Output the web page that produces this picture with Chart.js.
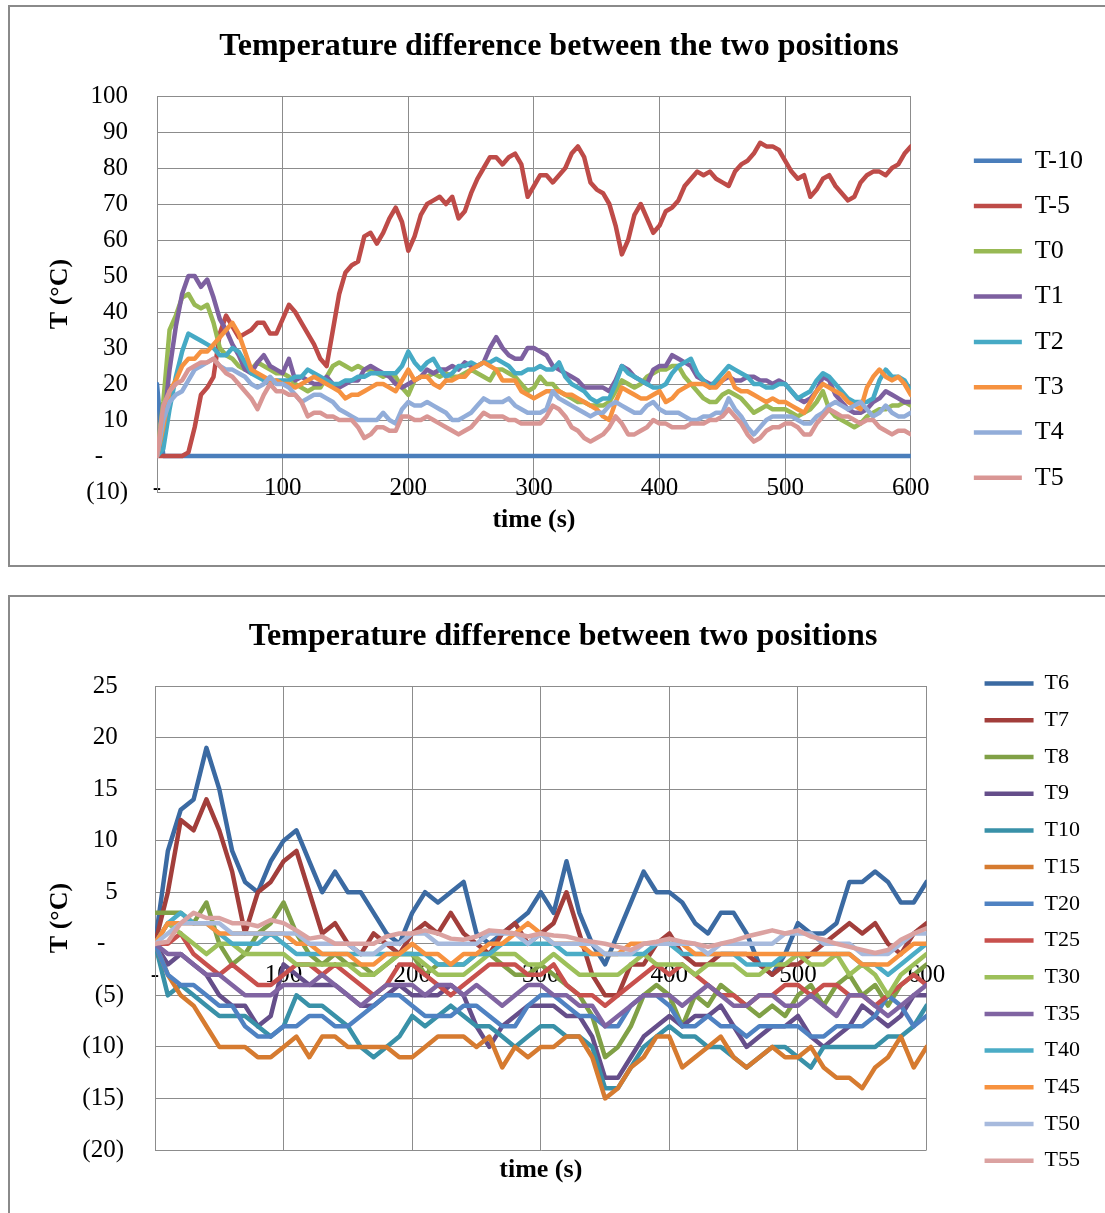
<!DOCTYPE html>
<html><head><meta charset="utf-8">
<script src="https://cdn.jsdelivr.net/npm/chart.js@4.4.1/dist/chart.umd.min.js"></script>
<style>
html,body{margin:0;padding:0;background:#fff;overflow:hidden;width:1105px;height:1213px;}
.box{position:absolute;left:8px;border:2px solid #8a8a8a;background:#fff;}
#box1{top:5px;width:1100px;height:558px;}
#box2{top:595px;width:1100px;height:640px;}
.wrap{position:absolute;left:0;top:0;}
#w1{width:1083px;height:558px;}
#w2{width:1080px;height:616px;}
</style></head><body>
<div class="box" id="box1"><div class="wrap" id="w1"><canvas id="c1"></canvas></div></div>
<div class="box" id="box2"><div class="wrap" id="w2"><canvas id="c2"></canvas></div></div>
<script>
// ---------- Chart 1 data (t = 0..600 s, every 5 s) ----------
const time1 = [0,5,10,15,20,25,30,35,40,45,
50,55,60,65,70,75,80,85,90,95,
100,105,110,115,120,125,130,135,140,145,
150,155,160,165,170,175,180,185,190,195,
200,205,210,215,220,225,230,235,240,245,
250,255,260,265,270,275,280,285,290,295,
300,305,310,315,320,325,330,335,340,345,
350,355,360,365,370,375,380,385,390,395,
400,405,410,415,420,425,430,435,440,445,
450,455,460,465,470,475,480,485,490,495,
500,505,510,515,520,525,530,535,540,545,
550,555,560,565,570,575,580,585,590,595,
600];
const labels1 = ['T-10','T-5','T0','T1','T2','T3','T4','T5'];
const Tm10 = [20,0,0,0,0,0,0,0,0,0,
0,0,0,0,0,0,0,0,0,0,
0,0,0,0,0,0,0,0,0,0,
0,0,0,0,0,0,0,0,0,0,
0,0,0,0,0,0,0,0,0,0,
0,0,0,0,0,0,0,0,0,0,
0,0,0,0,0,0,0,0,0,0,
0,0,0,0,0,0,0,0,0,0,
0,0,0,0,0,0,0,0,0,0,
0,0,0,0,0,0,0,0,0,0,
0,0,0,0,0,0,0,0,0,0,
0,0,0,0,0,0,0,0,0,0,
0];
const Tm5 = [0,0,0,0,0,1,8,17,19,22,
34,39,36,33,34,35,37,37,34,34,
38,42,40,37,34,31,27,25,35,45,
51,53,54,61,62,59,62,66,69,65,
57,61,67,70,71,72,70,72,66,68,
73,77,80,83,83,81,83,84,81,72,
75,78,78,76,78,80,84,86,83,76,
74,73,70,64,56,60,67,70,66,62,
64,68,69,71,75,77,79,78,79,77,
76,75,79,81,82,84,87,86,86,85,
82,79,77,78,72,74,77,78,75,73,
71,72,76,78,79,79,78,80,81,84,
86];
const T0 = [0,15,35,39,44,45,42,41,42,37,
30,28,27,25,24,24,26,25,24,23,
23,22,20,19,18,19,19,22,25,26,
25,24,25,24,24,23,22,23,22,19,
17,21,22,22,23,22,23,22,22,23,
24,23,22,21,24,24,23,22,20,18,
19,22,20,20,18,17,16,15,15,14,
14,14,15,18,21,20,19,20,22,23,
24,24,25,25,22,20,18,16,15,15,
17,18,17,16,14,12,13,14,13,13,
13,12,11,12,13,15,18,13,11,10,
9,8,9,11,12,13,13,14,14,15,
14];
const T1 = [0,8,24,36,45,50,50,47,49,44,
38,35,31,28,24,23,26,28,25,24,
23,27,21,22,21,20,20,22,20,19,
20,21,21,24,25,24,23,22,20,19,
20,21,22,24,23,24,24,25,24,26,
25,25,26,30,33,30,28,27,27,30,
30,29,28,25,24,23,22,21,19,19,
19,19,18,21,25,24,22,21,20,24,
25,25,28,27,26,25,22,21,20,20,
21,22,21,21,22,22,21,21,20,21,
20,18,16,15,16,18,22,21,17,15,
13,12,12,13,15,16,18,17,16,15,
15];
const T2 = [0,2,13,22,29,34,33,32,31,30,
28,28,30,29,26,23,22,21,20,21,
21,21,22,22,24,23,22,21,20,20,
21,21,22,22,23,23,23,23,23,25,
29,26,24,26,27,24,22,23,25,25,
26,25,26,26,27,26,25,23,23,24,
24,25,24,24,26,22,20,19,18,16,
15,16,16,20,25,23,22,21,20,19,
19,20,23,25,26,27,23,21,19,21,
23,25,24,23,22,20,20,19,19,20,
20,18,16,17,18,21,23,22,20,18,
16,15,15,15,16,21,24,22,22,21,
18];
const T3 = [0,8,18,21,25,27,27,29,29,31,
33,35,37,34,29,24,23,22,21,21,
20,20,19,20,21,22,21,20,19,18,
16,17,17,18,19,20,20,19,18,21,
24,21,22,22,20,19,21,21,22,22,
24,25,26,25,24,21,21,21,18,17,
16,17,18,18,18,17,17,16,15,14,
13,11,10,15,19,18,17,16,16,17,
18,15,16,18,19,20,20,20,19,19,
21,23,19,18,18,17,16,15,16,15,
15,14,13,12,15,18,20,19,18,17,
15,14,13,19,22,24,22,21,22,20,
17];
const T4 = [0,10,15,17,18,21,24,25,26,27,
25,24,24,23,22,20,19,20,22,20,
20,19,17,15,16,17,17,16,15,13,
12,11,10,10,10,10,12,10,9,13,
15,14,14,15,14,13,12,10,10,11,
12,14,16,15,15,15,16,14,13,12,
12,12,13,18,16,15,14,13,12,11,
12,12,14,15,14,13,12,12,14,15,
13,12,12,12,11,10,10,11,11,12,
12,16,13,11,8,6,8,10,11,11,
11,11,10,9,9,11,12,14,15,14,
13,14,15,13,11,12,14,12,11,11,
12];
const T5 = [0,14,18,20,21,24,25,26,26,27,
25,23,22,20,18,16,13,17,20,18,
18,17,17,15,11,12,12,11,11,10,
10,10,8,5,6,8,8,7,7,11,
11,10,10,11,10,9,8,7,6,7,
8,10,12,11,11,11,10,10,9,9,
9,9,11,14,13,11,8,7,5,4,
5,6,8,11,9,6,6,7,8,10,
9,9,8,8,8,9,9,9,10,10,
11,13,11,9,6,4,5,7,8,8,
9,9,8,6,6,9,11,13,12,11,
11,10,9,10,10,8,7,6,7,7,
6];
const colors1 = ['#4A7EBB','#BE4B48','#98B954','#7D60A0','#46AAC5','#F69240','#92ADD9','#D99694'];
const yTicks1 = {min:-10, max:100, step:10};

// ---------- Chart 2 data (t = 0..600 s, every 10 s) ----------
const time2 = [0,10,20,30,40,50,60,70,80,90,
100,110,120,130,140,150,160,170,180,190,
200,210,220,230,240,250,260,270,280,290,
300,310,320,330,340,350,360,370,380,390,
400,410,420,430,440,450,460,470,480,490,
500,510,520,530,540,550,560,570,580,590,
600];
const labels2 = ['T6','T7','T8','T9','T10','T15','T20','T25','T30','T35','T40','T45','T50','T55'];
const T6 = [0,9,13,14,19,15,9,6,5,8,
10,11,8,5,7,5,5,3,1,0,
3,5,4,5,6,1,0,1,2,3,
5,3,8,3,0,-2,1,4,7,5,
5,4,2,1,3,3,1,-2,-3,-1,
2,1,1,2,6,6,7,6,4,4,
6];
const T7 = [0,5,12,11,14,11,7,1,5,6,
8,9,5,1,2,0,-1,1,0,-1,
1,2,1,3,1,0,-1,1,2,0,
1,2,5,1,-3,-5,-5,-2,-2,0,
1,-1,-2,-2,-1,-1,-1,-2,-3,-2,
-2,-1,0,1,2,1,2,0,-1,1,
2];
const T8 = [3,3,3,2,4,0,-2,-1,1,2,
4,1,-1,-2,-1,-2,-2,-3,-2,-1,
-1,-3,-2,-2,-2,-1,-1,-2,-3,-3,
-2,-3,-4,-5,-7,-11,-10,-8,-5,-4,
-5,-8,-5,-6,-4,-5,-6,-7,-6,-7,
-5,-4,-6,-4,-3,-5,-4,-6,-4,-3,
-2];
const T9 = [0,-2,-1,-2,-3,-5,-6,-6,-8,-7,
-2,-3,-4,-4,-4,-5,-6,-6,-5,-4,
-5,-5,-5,-4,-5,-8,-10,-8,-7,-6,
-6,-6,-7,-7,-9,-13,-13,-11,-9,-8,
-7,-8,-7,-7,-6,-8,-10,-9,-8,-8,
-7,-9,-10,-9,-8,-6,-7,-8,-7,-5,
-5];
const T10 = [0,-5,-4,-5,-6,-7,-7,-7,-8,-9,
-8,-5,-6,-6,-7,-8,-10,-11,-10,-9,
-7,-8,-7,-6,-7,-8,-8,-9,-10,-9,
-8,-8,-9,-9,-10,-14,-14,-12,-10,-9,
-8,-9,-9,-10,-10,-11,-12,-11,-10,-10,
-11,-12,-10,-10,-10,-10,-10,-9,-9,-8,
-6];
const T15 = [0,-3,-5,-6,-8,-10,-10,-10,-11,-11,
-10,-9,-11,-9,-9,-10,-10,-10,-10,-11,
-11,-10,-9,-9,-9,-10,-9,-12,-10,-11,
-10,-10,-9,-9,-11,-15,-14,-12,-11,-9,
-9,-12,-11,-10,-9,-11,-12,-11,-10,-11,
-11,-10,-12,-13,-13,-14,-12,-11,-9,-12,
-10];
const T20 = [0,-3,-4,-4,-5,-6,-6,-8,-9,-9,
-8,-8,-7,-7,-8,-8,-7,-6,-5,-5,
-6,-7,-7,-7,-6,-6,-7,-8,-8,-6,
-5,-5,-6,-7,-7,-8,-8,-6,-5,-5,
-6,-8,-8,-7,-8,-8,-9,-8,-8,-8,
-8,-9,-9,-8,-8,-8,-7,-5,-6,-8,
-7];
const T25 = [0,0,1,-1,-2,-3,-2,-3,-4,-4,
-3,-2,-2,-3,-2,-3,-4,-5,-4,-2,
-2,-3,-4,-5,-4,-3,-2,-2,-2,-3,
-3,-2,-4,-5,-5,-6,-5,-4,-3,-2,
-3,-2,-3,-4,-5,-5,-6,-5,-5,-4,
-4,-5,-4,-4,-5,-5,-6,-5,-4,-3,
-4];
const T30 = [0,2,1,0,-1,0,0,-1,-1,-1,
-1,-2,-2,-2,-2,-2,-3,-3,-2,-1,
-1,-2,-3,-3,-3,-2,-1,-1,-1,-2,
-2,-1,-2,-3,-3,-3,-3,-2,-1,-2,
-2,-2,-3,-2,-2,-2,-3,-3,-2,-2,
-1,-2,-2,-1,-3,-2,-3,-5,-3,-2,
-1];
const T35 = [0,-1,-1,-2,-3,-3,-4,-5,-5,-5,
-4,-4,-4,-3,-4,-5,-6,-5,-4,-4,
-4,-5,-4,-4,-5,-4,-5,-6,-5,-4,
-4,-5,-5,-6,-6,-8,-7,-6,-5,-5,
-5,-6,-5,-4,-5,-6,-6,-5,-5,-6,
-6,-5,-6,-7,-5,-5,-6,-7,-6,-5,
-4];
const T40 = [0,2,3,2,2,1,0,0,0,1,
0,-1,-1,-1,-1,-1,-1,-1,-1,-1,
-1,-1,-2,-2,-2,-1,-1,0,0,0,
0,0,-1,-1,-1,-1,-1,-1,-1,0,
0,-1,-1,-1,-1,-1,-2,-2,-2,-1,
-1,-1,-1,-1,-1,-2,-2,-3,-2,-1,
0];
const T45 = [0,2,2,2,2,1,1,1,1,1,
1,0,0,-1,-1,-1,-2,-2,-1,-1,
0,-1,-1,-2,-1,-1,0,0,1,2,
1,0,0,0,-1,-1,-1,0,0,0,
0,0,-1,-1,-1,-1,-1,-1,-1,-1,
-1,-1,-1,-1,-1,-2,-2,-2,-1,0,
0];
const T50 = [0,1,2,2,2,2,1,1,1,1,
1,1,0,0,0,0,-1,-1,0,0,
1,1,0,0,0,0,1,1,1,0,
1,0,0,0,0,-1,-1,-1,0,0,
0,0,0,-1,0,0,0,0,0,1,
1,1,0,0,0,-1,-1,-1,0,1,
1];
const T55 = [0,0.2,2,3,2.5,2.5,2,2,1.7,2.3,
2,1.3,0.5,0.7,0,0,0,0,0.7,1,
1,1.3,1,0.5,0.4,0.7,1.3,1.2,1,0.7,
1,0.8,0.7,0.4,0.2,0,-0.3,-0.6,0,0.2,
0.5,0.2,0,-0.3,0,0.3,0.7,1,1.3,1,
1.3,0.7,0.4,0,-0.3,-0.6,-0.9,-0.6,0.4,1,
1.5];
const colors2 = ['#3B6AA2','#A23E3B','#80A046','#654E8A','#3991A8','#D67B30','#4F82C2','#C8504D','#9DC05A','#8064A2','#4BACC6','#F7923F','#A7BADD','#DBA2A1'];
const yTicks2 = {min:-20, max:25, step:5};

// ---------- rendering ----------
const FONT = "'Liberation Serif','Times New Roman',serif";
const GRID = '#8c8c8c';
Chart.defaults.font.family = FONT;
Chart.defaults.color = '#000';

function mkSets(names, cols, series, t){
  return names.map((n,i)=>({
    label:n,
    data: series[i].map((v,k)=>({x:t[k], y:v})),
    borderColor: cols[i], backgroundColor: cols[i],
    borderWidth:4.5, pointRadius:0, pointHoverRadius:0, tension:0, fill:false,
    borderJoinStyle:'round', borderCapStyle:'round',
    xAxisID:'x', yAxisID:'y', order:-i
  }));
}
function yLabel(posSuffix, zeroLabel){
  return v => v>0 ? String(v)+posSuffix : (v===0 ? zeroLabel : '('+(-v)+')');
}
function build(id, cfg){
  return new Chart(document.getElementById(id), {
    type:'line',
    data:{datasets: mkSets(cfg.names, cfg.cols, cfg.series, cfg.time)},
    options:{
      responsive:true, maintainAspectRatio:false, animation:false, devicePixelRatio:1,
      events:[],
      layout:{padding:{left:cfg.padLeft, right:0, top:0, bottom:0}},
      plugins:{
        title:{display:true, text:cfg.title, color:'#000', font:{family:FONT, size:32, weight:'bold'}, padding:cfg.titlePad},
        legend:{position:'right', align:'start', fullSize:true,
          title:{display:true, text:' ', font:{size:12}, padding:{top:cfg.legTop, bottom:0}},
          labels:{usePointStyle:true, pointStyle:'line', pointStyleWidth:cfg.legLine, color:'#000',
            font:{family:FONT, size:cfg.legFont}, padding:cfg.legPad,
            sort:(a,b)=>a.datasetIndex-b.datasetIndex}},
        tooltip:{enabled:false}
      },
      scales:{
        x:{type:'linear', min:0, max:600, position:{y:0},
          ticks:{stepSize:100, autoSkip:false, maxRotation:0, padding:cfg.xPad, color:'#000', font:{family:FONT, size:25},
            callback:v=> v===0 ? '-' : String(v)},
          grid:{color:GRID, lineWidth:1, drawTicks:false}, border:{display:false}},
        x2:{type:'linear', position:'bottom', display:true,
          ticks:{display:false}, grid:{display:false, drawTicks:false}, border:{display:false},
          title:{display:true, text:'time (s)', color:'#000', font:{family:FONT, size:26, weight:'bold'}, padding:cfg.xTitlePad}},
        y:{type:'linear', position:'left', min:cfg.yt.min, max:cfg.yt.max,
          ticks:{stepSize:cfg.yt.step, padding:cfg.yPad, color:'#000', font:{family:FONT, size:25}, callback:cfg.yCb},
          grid:{color:GRID, lineWidth:1, drawTicks:false}, border:{display:true, color:GRID},
          title:{display:true, text:'T (°C)', color:'#000', font:{family:FONT, size:26, weight:'bold'}, padding:{top:cfg.yTitlePad, bottom:0}},
          afterFit:s=>{ s.width = cfg.yWidth; }},
        y2:{type:'linear', position:'right', display:true,
          ticks:{display:false}, grid:{display:false, drawTicks:false}, border:{display:false},
          afterFit:s=>{ s.width = cfg.gapRight; }}
      }
    }
  });
}

build('c1', {
  names:labels1, cols:colors1, series:[Tm10,Tm5,T0,T1,T2,T3,T4,T5], time:time1,
  title:'Temperature difference between the two positions',
  titlePad:{top:21, bottom:29.6}, padLeft:15, yWidth:132, yTitlePad:19.4, yPad:29,
  yt:yTicks1, yCb:yLabel('', '-    '), xPad:17, xTitlePad:{top:12.4, bottom:29.4},
  legTop:107, legLine:48, legFont:26, legPad:19.3, gapRight:43.7
});
build('c2', {
  names:labels2, cols:colors2, series:[T6,T7,T8,T9,T10,T15,T20,T25,T30,T35,T40,T45,T50,T55], time:time2,
  title:'Temperature difference between two positions',
  titlePad:{top:20.5, bottom:30.1}, padLeft:26, yWidth:119, yTitlePad:8.4, yPad:31,
  yt:yTicks2, yCb:yLabel(' ', '-   '), xPad:17, xTitlePad:{top:4.4, bottom:27.4},
  legTop:46.5, legLine:49, legFont:22, legPad:14.7, gapRight:43.3
});
</script>
</body></html>
